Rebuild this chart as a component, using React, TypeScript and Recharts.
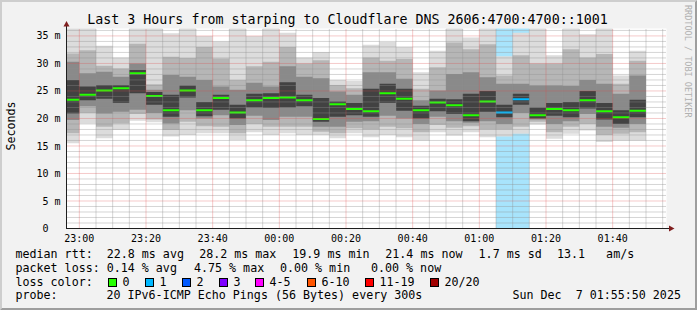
import React from "react";
import {
  ComposedChart,
  Area,
  XAxis,
  YAxis,
  CartesianGrid,
  ReferenceLine,
} from "recharts";

// 5-minute slots (start time of each step)
const slotStart = [
  "22:55", "23:00", "23:05", "23:10", "23:15", "23:20", "23:25", "23:30", "23:35",
  "23:40", "23:45", "23:50", "23:55", "00:00", "00:05", "00:10", "00:15", "00:20",
  "00:25", "00:30", "00:35", "00:40", "00:45", "00:50", "00:55", "01:00", "01:05",
  "01:10", "01:15", "01:20", "01:25", "01:30", "01:35", "01:40", "01:45",
];

// median rtt (ms)
const median = [
  23.4, 24.3, 25.1, 25.5, 28.2, 24.1, 21.5, 25.1, 21.5, 23.7, 21.1, 23.3, 23.7, 23.8,
  23.3, 19.9, 22.6, 21.7, 21.3, 24.6, 23.6, 21.5, 22.9, 22.4, 20.6, 23.1, 21.1, 23.5,
  20.6, 21.7, 21.5, 23.3, 21.3, 20.2, 21.4,
];

// lost pings per step (of 20)
const lossCount = [
  0, 0, 0, 0, 0, 0, 0, 0, 0, 0, 0, 0, 0, 0, 0, 0, 0, 0, 0, 0, 0, 0, 0, 0, 0, 0, 1, 1,
  0, 0, 0, 0, 0, 0, 0,
];

// smoke bands, outer to inner (ms)
const outerLo = [
  15.5, 19.1, 16.4, 17.9, 19.6, 19.3, 16.7, 17.0, 17.3, 17.3, 16.1, 17.5, 17.0, 17.3,
  17.0, 17.0, 16.4, 17.3, 16.6, 17.0, 16.6, 16.0, 17.5, 16.9, 17.5, 16.6, 16.7, 17.2,
  18.9, 16.3, 17.2, 17.8, 15.7, 16.0, 16.0,
];
const outerHi = [
  36.6, 36.6, 33.2, 31.1, 36.6, 36.6, 35.5, 36.6, 35.0, 34.0, 36.6, 35.0, 36.6, 35.6,
  31.1, 32.1, 27.0, 26.8, 33.4, 33.9, 33.0, 28.4, 32.3, 36.6, 34.7, 36.6, 31.3, 35.6,
  36.6, 31.5, 36.6, 35.3, 36.6, 27.8, 32.3,
];
const midLo = [
  17.3, 21.0, 18.5, 19.1, 20.8, 19.8, 17.9, 19.4, 18.6, 18.5, 17.3, 19.0, 18.5, 18.5,
  18.5, 17.6, 17.3, 18.2, 18.0, 18.5, 18.2, 17.5, 18.8, 18.3, 18.6, 18.0, 18.0, 18.5,
  19.4, 17.5, 18.5, 19.0, 17.0, 17.2, 17.5,
];
const midHi = [
  31.8, 32.4, 29.6, 29.1, 33.6, 26.2, 31.2, 31.0, 33.0, 30.9, 27.0, 29.5, 30.3, 33.0,
  30.0, 30.6, 26.1, 25.5, 31.1, 30.5, 30.8, 25.4, 29.3, 33.8, 32.6, 33.5, 27.8, 31.5,
  30.0, 30.0, 32.6, 31.1, 31.7, 26.3, 30.5,
];
const innerLo = [
  19.7, 22.2, 20.9, 21.2, 21.6, 21.0, 19.1, 21.5, 20.0, 20.6, 18.8, 20.5, 19.7, 20.3,
  20.3, 18.5, 18.5, 19.4, 19.5, 20.5, 20.0, 19.0, 20.3, 19.5, 19.2, 19.5, 19.0, 21.0,
  19.8, 19.0, 19.5, 20.8, 18.5, 18.3, 19.0,
];
const innerHi = [
  30.3, 28.2, 28.5, 27.6, 30.0, 25.2, 27.9, 27.6, 27.0, 25.8, 25.2, 26.5, 25.8, 29.5,
  27.6, 27.3, 24.9, 24.3, 28.4, 28.4, 27.2, 23.3, 25.1, 28.1, 28.4, 27.5, 26.3, 26.3,
  26.0, 26.0, 25.9, 27.0, 26.3, 24.5, 27.8,
];
const coreLo = [
  20.9, 23.3, 23.6, 22.8, 24.6, 22.5, 20.3, 23.8, 20.4, 21.6, 20.0, 22.0, 21.9, 22.0,
  22.2, 19.4, 20.3, 20.6, 20.3, 22.8, 21.4, 20.0, 21.3, 20.8, 19.5, 21.2, 20.2, 22.5,
  20.0, 20.5, 20.2, 21.8, 19.8, 19.0, 20.2,
];
const coreHi = [
  27.0, 25.8, 26.1, 26.1, 28.8, 24.8, 24.3, 26.0, 23.0, 24.3, 22.5, 24.5, 24.6, 26.6,
  24.3, 23.7, 23.1, 22.8, 25.4, 26.3, 25.4, 22.3, 23.6, 23.5, 24.5, 25.0, 22.5, 24.5,
  22.0, 22.8, 23.0, 25.0, 22.8, 21.5, 23.4,
];

const yTicks = [0, 5, 10, 15, 20, 25, 30, 35];
const xTickLabels = ["23:00", "23:20", "23:40", "00:00", "00:20", "00:40", "01:00", "01:20", "01:40"];

const lossLegend = [
  { label: "0", color: "#26ff00" },
  { label: "1", color: "#00b8ff" },
  { label: "2", color: "#0059ff" },
  { label: "3", color: "#7e00ff" },
  { label: "4-5", color: "#ff00ff" },
  { label: "6-10", color: "#ff5500" },
  { label: "11-19", color: "#ff0000" },
  { label: "20/20", color: "#a10000" },
];

const STEP = 5;
const X_DOMAIN: [number, number] = [56.15, 236.15];
const Y_MAX = 36.35;
const MED_HALF = 0.18;
const MONO = "'DejaVu Sans Mono', monospace";

// minutes after 22:00
const toMin = (hhmm: string) => {
  const [h, m] = hhmm.split(":").map(Number);
  return ((h + 2) % 24) * 60 + m;
};
const fmtMin = (v: number) => {
  const total = Math.round(v);
  const h = (Math.floor(total / 60) + 22) % 24;
  const m = total % 60;
  return `${String(h).padStart(2, "0")}:${String(m).padStart(2, "0")}`;
};

const rows = slotStart.flatMap((s, i) => {
  const t = toMin(s);
  const lost = lossCount[i] > 0;
  const med = [median[i] - MED_HALF, median[i] + MED_HALF];
  const cell = {
    lossBg: lost ? [0, Y_MAX + 1] : null,
    outer: [outerLo[i], outerHi[i]],
    mid: [midLo[i], midHi[i]],
    inner: [innerLo[i], innerHi[i]],
    core: [coreLo[i], coreHi[i]],
    medOk: lost ? null : med,
    medLoss: lost ? med : null,
  };
  return [{ t, ...cell }, { t: t + STEP, ...cell }];
});

const xTicks = xTickLabels.map(toMin);
const minorX: number[] = [];
for (let t = 60; t < X_DOMAIN[1]; t += 5) if (!xTicks.includes(t)) minorX.push(t);
const minorY: number[] = [];
for (let v = 1; v < Y_MAX; v++) if (v % 5 !== 0) minorY.push(v);

const GRID = "rgba(143,143,143,0.75)";
const MGRID = "rgba(222,79,79,0.6)";

const smoke = [
  { key: "lossBg", fill: "#a8e4fc" },
  { key: "outer", fill: "#dcdcdc" },
  { key: "mid", fill: "#b6b6b6" },
  { key: "inner", fill: "#8a8a8a" },
  { key: "core", fill: "#424242" },
  { key: "medOk", fill: "#26ff00" },
  { key: "medLoss", fill: "#00b8ff" },
];

export default function App() {
  return (
    <div style={{ position: "absolute", left: 0, top: 0, width: 697, height: 310, background: "#f2f2f2", overflow: "hidden" }}>
      <div style={{ position: "absolute", left: 0, top: 0 }}>
        <ComposedChart
          width={697}
          height={310}
          data={rows}
          margin={{ top: 28.5, right: 30.5, bottom: 61.5, left: 16.5 }}
        >
          <CartesianGrid fill="#ffffff" horizontal={false} vertical={false} />
          {smoke.map((s) => (
            <Area
              key={s.key}
              dataKey={s.key}
              type="linear"
              fill={s.fill}
              fillOpacity={1}
              stroke="none"
              dot={false}
              activeDot={false}
              isAnimationActive={false}
            />
          ))}
          {minorY.map((v) => (
            <ReferenceLine key={"my" + v} y={v} stroke={GRID} strokeDasharray="1 1" />
          ))}
          {minorX.map((t) => (
            <ReferenceLine key={"mx" + t} x={t} stroke={GRID} strokeDasharray="1 1" />
          ))}
          {yTicks.slice(1).map((v) => (
            <ReferenceLine key={"My" + v} y={v} stroke={MGRID} strokeDasharray="1 1" />
          ))}
          {xTicks.map((t) => (
            <ReferenceLine key={"Mx" + t} x={t} stroke={MGRID} strokeDasharray="1 1" />
          ))}
          <XAxis
            dataKey="t"
            type="number"
            domain={X_DOMAIN}
            allowDataOverflow
            ticks={xTicks}
            tickFormatter={fmtMin}
            height={20}
            tickSize={0}
            tickMargin={6}
            axisLine={{ stroke: "#1f1f1f" }}
            tick={{ fontFamily: MONO, fontSize: 10, fill: "#000" }}
          />
          <YAxis
            type="number"
            domain={[0, Y_MAX]}
            allowDataOverflow
            ticks={yTicks}
            tickFormatter={(v: number) => (v === 0 ? "0\u00a0\u00a0" : `${v} m`)}
            width={50}
            tickSize={0}
            tickMargin={6}
            axisLine={{ stroke: "#1f1f1f" }}
            tick={{ fontFamily: MONO, fontSize: 10, fill: "#000" }}
          />
        </ComposedChart>
      </div>
      <svg
        width={697}
        height={310}
        style={{ position: "absolute", left: 0, top: 0, pointerEvents: "none" }}
        fontFamily={MONO}
      >
        {/* 3d frame */}
        <polygon points="0,0 697,0 695,2 2,2 2,308 0,310" fill="#cecece" />
        <polygon points="697,0 697,310 0,310 2,308 695,308 695,2" fill="#9e9e9e" />
        {/* axis extensions and arrows */}
        <line x1={66.5} y1={228} x2={66.5} y2={24} stroke="#1f1f1f" />
        <line x1={66} y1={228.5} x2={670} y2={228.5} stroke="#1f1f1f" />
        <polygon points="63.5,26.5 69.5,26.5 66.5,21" fill="#801f1f" />
        <polygon points="669,225.5 669,231.5 674.5,228.5" fill="#801f1f" />
        <text x={347.5} y={24} textAnchor="middle" fontSize={13.3} fill="#000" xmlSpace="preserve">
          Last 3 Hours from starping to Cloudflare DNS 2606:4700:4700::1001
        </text>
        <text transform="translate(15,126) rotate(-90)" textAnchor="middle" fontSize={11.66} fill="#000">
          Seconds
        </text>
        <text transform="translate(685,5) rotate(90)" fontSize={8.5} fill="#b0b0b0">
          RRDTOOL / TOBI OETIKER
        </text>
        <g fontSize={11.66} fill="#000" style={{ whiteSpace: "pre" }}>
          <text x={15.5} y={258} xmlSpace="preserve">median rtt:  22.8 ms avg</text>
          <text x={199.2} y={258}>28.2 ms max</text>
          <text x={292.3} y={258}>19.9 ms min</text>
          <text x={385.3} y={258}>21.4 ms now</text>
          <text x={478.6} y={258}>1.7 ms sd</text>
          <text x={557} y={258} xmlSpace="preserve">13.1   am/s</text>

          <text x={15.5} y={271.8} xmlSpace="preserve">packet loss: 0.14 % avg</text>
          <text x={194} y={271.8}>4.75 % max</text>
          <text x={280} y={271.8}>0.00 % min</text>
          <text x={371} y={271.8}>0.00 % now</text>

          <text x={15.5} y={285.6}>loss color:</text>
          {lossLegend.map((l, i) => {
            const bx = [108.5, 145.5, 182.5, 219.5, 255.5, 307.5, 365.5, 430.5][i];
            return (
              <g key={l.label}>
                <rect x={bx} y={278.5} width={8} height={8} fill={l.color} stroke="#000" />
                <text x={bx + 14} y={285.6}>{l.label}</text>
              </g>
            );
          })}

          <text x={15.5} y={299.4}>probe:</text>
          <text x={106.5} y={299.4}>20 IPv6-ICMP Echo Pings (56 Bytes) every 300s</text>
          <text x={512.5} y={299.4} xmlSpace="preserve">Sun Dec  7 01:55:50 2025</text>
        </g>
      </svg>
    </div>
  );
}
